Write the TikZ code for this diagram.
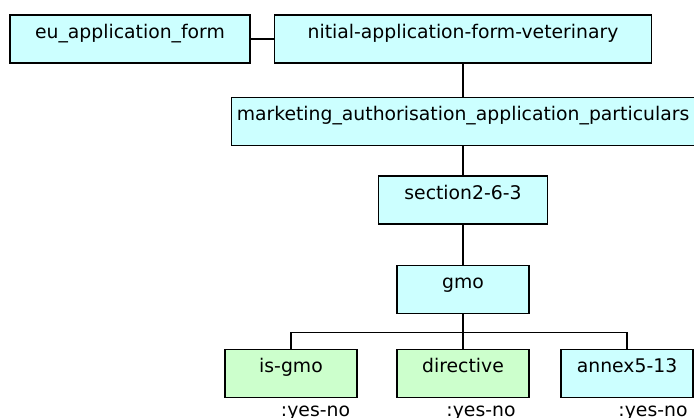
\documentclass[tikz,border=0pt]{standalone}
\usepackage{fontspec}
\setmainfont{DejaVu Sans}
\definecolor{boxcyan}{RGB}{204,255,255}
\definecolor{boxgreen}{RGB}{204,255,204}
\begin{document}
\begin{tikzpicture}[x=1pt,y=-1pt,
  box/.style={draw=black, line width=1.8pt, rectangle, inner xsep=0pt, inner ysep=0pt,
    text height=23pt, text depth=25pt, align=center,
    font=\fontsize{18.8pt}{22pt}\selectfont},
  cyanbox/.style={box, fill=boxcyan},
  greenbox/.style={box, fill=boxgreen},
  conn/.style={draw=black, line width=2pt},
  busline/.style={draw=black, line width=1.5pt},
  typelabel/.style={anchor=base, inner sep=0pt, font=\fontsize{18.8pt}{22pt}\selectfont}
]
\clip (0,0) rectangle (694,418);
\fill[white] (0,0) rectangle (694,418);
\node[cyanbox, minimum width=240pt] (eu) at (130,39) {eu\_application\_form};
\node[cyanbox, minimum width=377pt] (nitial) at (463,39) {nitial-application-form-veterinary};
\node[cyanbox, minimum width=463pt] (marketing) at (463,121.5) {marketing\_authorisation\_application\_particulars};
\node[cyanbox, minimum width=169pt] (section) at (463,200) {section2-6-3};
\node[cyanbox, minimum width=132pt] (gmo) at (463,289.5) {gmo};
\node[greenbox, minimum width=132pt] (isgmo) at (291,373.5) {is-gmo};
\node[greenbox, minimum width=132pt] (directive) at (463,373.5) {directive};
\node[cyanbox, minimum width=132pt] (annex) at (627,373.5) {annex5-13};

\draw[conn] (eu) -- (nitial);
\draw[conn] (nitial.south) -- (marketing.north);
\draw[conn] (marketing.south) -- (section.north);
\draw[conn] (section.south) -- (gmo.north);
\draw[conn] (gmo.south) -- (directive.north);
\coordinate (bus) at ([yshift=-18pt]gmo.south);
\draw[busline] (bus) -| (isgmo.north);
\draw[busline] (bus) -| (annex.north);

\node[typelabel] (lab1) at ([xshift=24.5pt,yshift=-18pt]isgmo.south) {:yes-no};
\node[typelabel] (lab2) at ([xshift=18pt,yshift=-18pt]directive.south) {:yes-no};
\node[typelabel] (lab3) at ([xshift=26pt,yshift=-18pt]annex.south) {:yes-no};
\end{tikzpicture}
\end{document}
